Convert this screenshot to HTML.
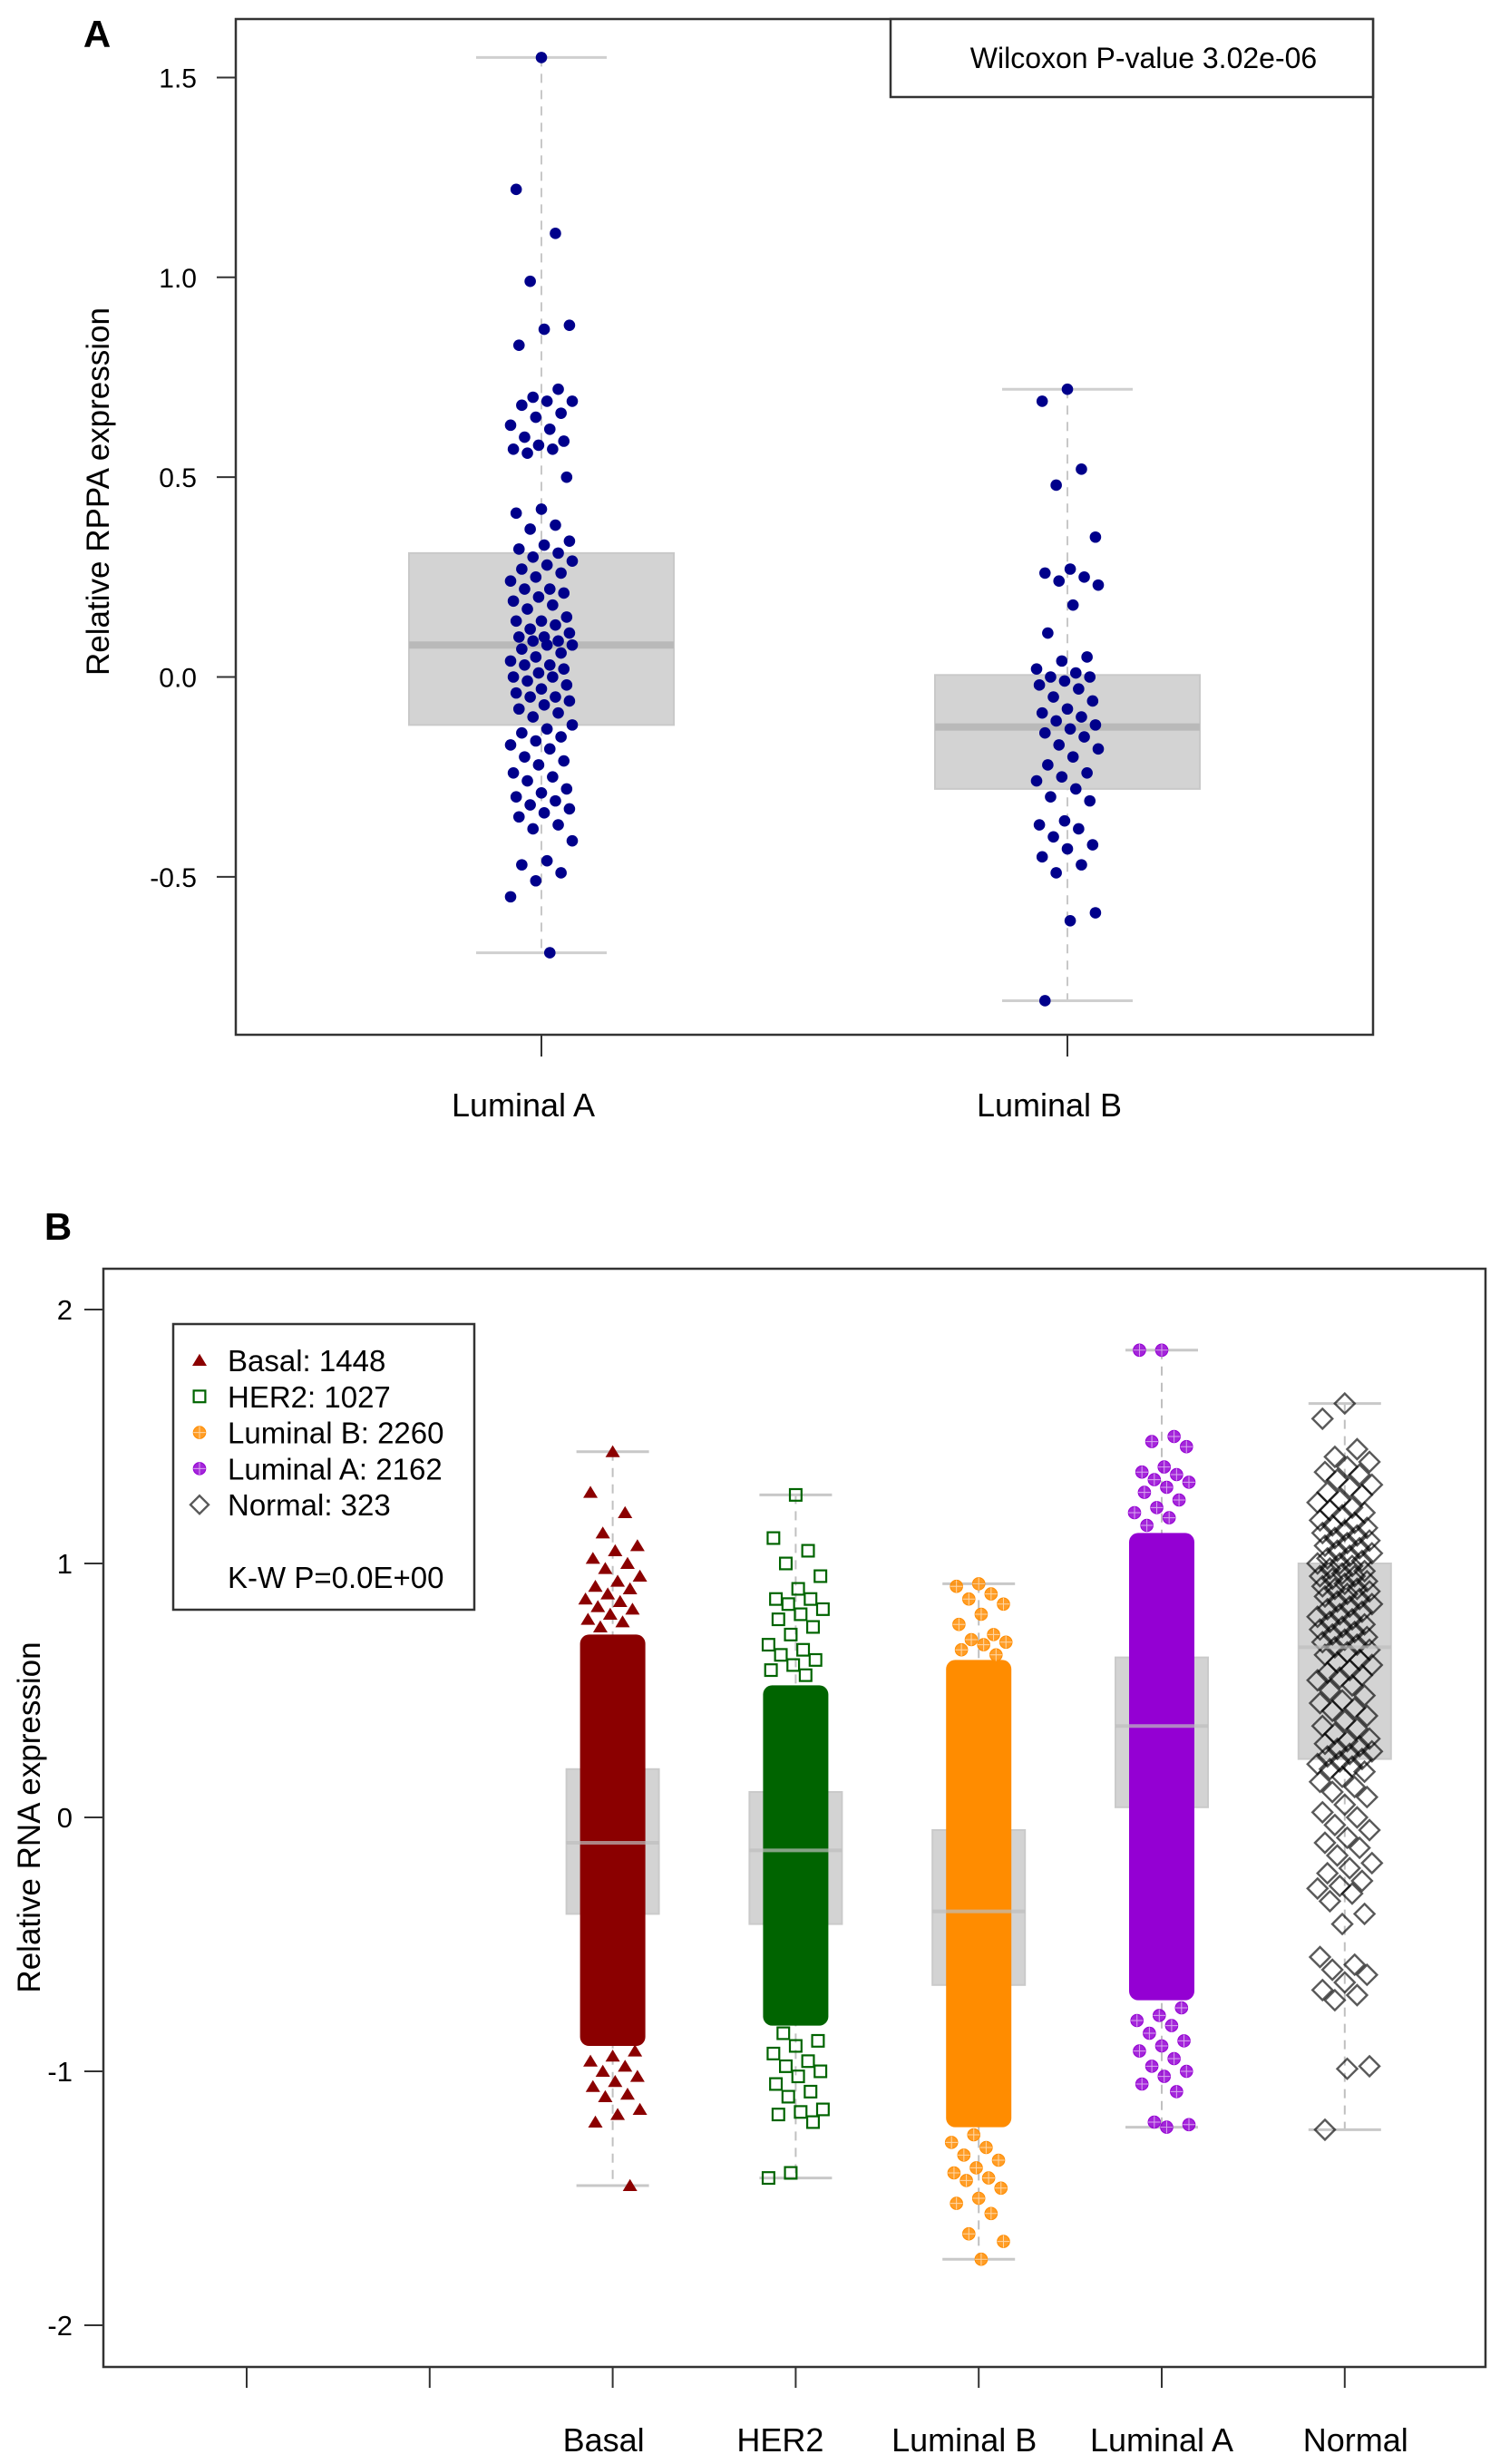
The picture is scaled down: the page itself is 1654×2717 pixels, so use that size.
<!DOCTYPE html>
<html><head><meta charset="utf-8"><title>RPPA and RNA expression boxplots</title>
<style>
html,body{margin:0;padding:0;background:#fff;}
svg{display:block;font-family:"Liberation Sans",Arial,sans-serif;}
</style></head>
<body>
<svg id="fig" width="1654" height="2717" viewBox="0 0 1654 2717" xmlns="http://www.w3.org/2000/svg">
<rect x="0" y="0" width="1654" height="2717" fill="#fff"/>
<g id="panelA"></g>
<g id="panelB"></g>
</svg>
<script>
// ---------- Panel A data ----------
const aCategories = ["Luminal A", "Luminal B"];
const aTicks = [-0.5, 0.0, 0.5, 1.0, 1.5];
const aTickLabels = ["-0.5", "0.0", "0.5", "1.0", "1.5"];
const aQ1 = [-0.12, -0.28];
const aMedian = [0.08, -0.125];
const aQ3 = [0.31, 0.005];
const aWhiskLo = [-0.69, -0.81];
const aWhiskHi = [1.55, 0.72];
const aPointsLumA = [1.55,1.22,1.11,0.99,0.88,0.87,0.83,0.72,0.70,0.69,0.69,0.68,0.66,0.65,0.63,0.62,0.60,0.59,0.58,0.57,0.57,0.56,0.50,0.42,0.41,0.38,0.37,0.34,0.33,0.32,0.31,0.30,0.29,0.28,0.27,0.26,0.25,0.24,0.22,0.22,0.21,0.20,0.19,0.18,0.17,0.15,0.14,0.14,0.13,0.12,0.11,0.10,0.10,0.09,0.09,0.08,0.08,0.07,0.06,0.05,0.04,0.03,0.03,0.02,0.01,0.00,0.00,-0.01,-0.02,-0.03,-0.04,-0.05,-0.05,-0.06,-0.07,-0.08,-0.09,-0.10,-0.12,-0.13,-0.14,-0.15,-0.16,-0.17,-0.18,-0.20,-0.21,-0.22,-0.24,-0.25,-0.26,-0.28,-0.29,-0.30,-0.31,-0.32,-0.33,-0.34,-0.35,-0.37,-0.38,-0.41,-0.46,-0.47,-0.49,-0.51,-0.55,-0.69];
const aPointsLumB = [0.72,0.69,0.52,0.48,0.35,0.27,0.26,0.25,0.24,0.23,0.18,0.11,0.05,0.04,0.02,0.01,0.00,0.00,-0.01,-0.02,-0.03,-0.05,-0.06,-0.08,-0.09,-0.10,-0.11,-0.12,-0.13,-0.14,-0.15,-0.17,-0.18,-0.20,-0.22,-0.24,-0.25,-0.26,-0.28,-0.30,-0.31,-0.36,-0.37,-0.38,-0.40,-0.42,-0.43,-0.45,-0.47,-0.49,-0.59,-0.61,-0.81];

// ---------- Panel B data ----------
const bCategories = ["", "", "Basal", "HER2", "Luminal B", "Luminal A", "Normal"];
const bLabelNudge = [0, 0, -10, -17, -16, 0, 12];
const bTicks = [-2, -1, 0, 1, 2];
const bTickLabels = ["-2", "-1", "0", "1", "2"];
const bGroups = ["Basal", "HER2", "Luminal B", "Luminal A", "Normal"];
const bCounts = [1448, 1027, 2260, 2162, 323];
const bQ1 = [-0.38, -0.42, -0.66, 0.04, 0.23];
const bMedian = [-0.10, -0.13, -0.37, 0.36, 0.67];
const bQ3 = [0.19, 0.10, -0.05, 0.63, 1.00];
const bWhiskLo = [-1.45, -1.42, -1.74, -1.22, -1.23];
const bWhiskHi = [1.44, 1.27, 0.92, 1.84, 1.63];
// dense (solid-looking) core range per group
const bCoreLo = [-0.90, -0.82, -1.22, -0.72, null];
const bCoreHi = [0.72, 0.52, 0.62, 1.12, null];
// sparse tail points
const bTailBasal = [1.44,1.28,1.20,1.12,1.07,1.05,1.02,1.00,0.98,0.95,0.93,0.91,0.90,0.88,0.86,0.85,0.83,0.82,0.80,0.78,0.77,0.75,-0.92,-0.94,-0.96,-0.98,-1.00,-1.02,-1.04,-1.06,-1.09,-1.10,-1.15,-1.17,-1.20,-1.45];
const bTailHER2 = [1.27,1.10,1.05,1.00,0.95,0.90,0.86,0.86,0.84,0.82,0.80,0.78,0.75,0.72,0.68,0.66,0.64,0.62,0.60,0.58,0.56,-0.85,-0.88,-0.90,-0.93,-0.96,-0.98,-1.00,-1.02,-1.05,-1.08,-1.10,-1.15,-1.16,-1.17,-1.20,-1.40,-1.42];
const bTailLumB = [0.92,0.91,0.88,0.86,0.84,0.80,0.76,0.72,0.70,0.69,0.68,0.66,0.64,-1.25,-1.28,-1.30,-1.33,-1.35,-1.38,-1.40,-1.42,-1.43,-1.46,-1.50,-1.52,-1.56,-1.64,-1.67,-1.74];
const bTailLumA = [1.84,1.84,1.50,1.48,1.46,1.38,1.36,1.35,1.33,1.32,1.30,1.28,1.25,1.22,1.20,1.18,1.15,-0.75,-0.78,-0.80,-0.82,-0.85,-0.88,-0.90,-0.92,-0.95,-0.98,-1.00,-1.02,-1.05,-1.08,-1.20,-1.21,-1.22];
const bPointsNormal = [1.63,1.57,1.45,1.42,1.40,1.38,1.36,1.35,1.33,1.31,1.30,1.28,1.27,1.25,1.24,1.22,1.21,1.20,1.19,1.17,1.16,1.15,1.14,1.13,1.12,1.11,1.10,1.09,1.08,1.07,1.06,1.05,1.04,1.03,1.02,1.01,1.00,1.00,0.99,0.98,0.97,0.96,0.95,0.95,0.94,0.93,0.92,0.91,0.90,0.90,0.89,0.88,0.87,0.86,0.85,0.84,0.83,0.82,0.81,0.80,0.79,0.78,0.77,0.76,0.75,0.74,0.73,0.72,0.71,0.70,0.69,0.68,0.67,0.66,0.65,0.64,0.62,0.61,0.60,0.58,0.57,0.56,0.55,0.54,0.52,0.50,0.48,0.46,0.45,0.43,0.42,0.40,0.38,0.36,0.35,0.33,0.31,0.30,0.29,0.28,0.27,0.26,0.25,0.24,0.23,0.22,0.21,0.20,0.19,0.18,0.16,0.14,0.12,0.10,0.08,0.05,0.02,0.00,-0.03,-0.05,-0.08,-0.10,-0.12,-0.15,-0.18,-0.20,-0.22,-0.25,-0.27,-0.28,-0.30,-0.33,-0.38,-0.42,-0.55,-0.58,-0.60,-0.62,-0.65,-0.68,-0.70,-0.72,-0.98,-0.99,-1.23];

const NS = "http://www.w3.org/2000/svg";
function mk(parent, tag, attrs, text) {
  const el = document.createElementNS(NS, tag);
  for (const k in attrs) el.setAttribute(k, attrs[k]);
  if (text !== undefined) el.textContent = text;
  parent.appendChild(el);
  return el;
}
function jit(i, half) { return (((i * 37 + 11) % 23) / 22 * 2 - 1) * half; }

// ================= PANEL A =================
const gA = document.getElementById("panelA");
const A = {left: 260, right: 1514, top: 21, bottom: 1141};
const yA = v => 746.5 - v * 440.7;
const xA = i => [597, 1177][i];

let t = mk(gA, "text", {x: 107, y: 52, "font-size": 42, "font-weight": "bold", "text-anchor": "middle"}, "A");



aCategories.forEach((c, i) => {
  const cx = xA(i);
  const g = mk(gA, "g", {});
  
  
  mk(g, "line", {x1: cx, x2: cx, y1: yA(aWhiskHi[i]), y2: yA(aWhiskLo[i]), stroke: "#c8c8c8", "stroke-width": 2, "stroke-dasharray": "10,8"});
  mk(g, "line", {x1: cx - 72, x2: cx + 72, y1: yA(aWhiskHi[i]), y2: yA(aWhiskHi[i]), stroke: "#cfcfcf", "stroke-width": 3});
  mk(g, "line", {x1: cx - 72, x2: cx + 72, y1: yA(aWhiskLo[i]), y2: yA(aWhiskLo[i]), stroke: "#cfcfcf", "stroke-width": 3});
  mk(g, "rect", {x: cx - 146, y: yA(aQ3[i]), width: 292, height: yA(aQ1[i]) - yA(aQ3[i]), fill: "#d3d3d3", stroke: "#c9c9c9", "stroke-width": 2});
  mk(g, "line", {x1: cx - 146, x2: cx + 146, y1: yA(aMedian[i]), y2: yA(aMedian[i]), stroke: "#b9b9b9", "stroke-width": 8});
});
[aPointsLumA, aPointsLumB].forEach((arr, gi) => {
  arr.forEach((v, i) => {
    const p = mk(gA, "circle", {cx: xA(gi) + jit(i, 34), cy: yA(v), r: 6.3, fill: "#00008B"});
    
    
  });
});
let fr = mk(gA, "rect", {x: A.left, y: A.top, width: A.right - A.left, height: A.bottom - A.top, fill: "none", stroke: "#333", "stroke-width": 2.5});


let lg = mk(gA, "g", {});


mk(lg, "rect", {x: 982, y: A.top, width: A.right - 982, height: 86, fill: "#fff", stroke: "#333", "stroke-width": 2.5});
mk(lg, "text", {x: 1261, y: 75, "font-size": 32, "text-anchor": "middle"}, "Wilcoxon P-value 3.02e-06");
aTicks.forEach((v, i) => {
  const tk = mk(gA, "line", {x1: 239, x2: A.left, y1: yA(v), y2: yA(v), stroke: "#333", "stroke-width": 2});
  
  
  const tl = mk(gA, "text", {x: 217, y: yA(v) + 11, "font-size": 30, "text-anchor": "end"}, aTickLabels[i]);
  
  
});
aCategories.forEach((c, i) => {
  const tk = mk(gA, "line", {x1: xA(i), x2: xA(i), y1: A.bottom, y2: A.bottom + 24, stroke: "#333", "stroke-width": 2});
  
  
  const tl = mk(gA, "text", {x: xA(i) - 20, y: 1231, "font-size": 36, "text-anchor": "middle"}, c);
  
  
});
let yt = mk(gA, "text", {x: 0, y: 0, "font-size": 35, "text-anchor": "middle", transform: "translate(120,542) rotate(-90)"}, "Relative RPPA expression");



// ================= PANEL B =================
const gB = document.getElementById("panelB");
const B = {left: 114, right: 1638, top: 1399, bottom: 2610};
const yB = v => 2004 - v * 280;
const xB = i => 272 + i * 201.8;
const colors = ["#8B0000", "#006400", "#FF8C00", "#9400D3", "#000000"];
const halfW = 36;

let tB = mk(gB, "text", {x: 64, y: 1367, "font-size": 42, "font-weight": "bold", "text-anchor": "middle"}, "B");



function marker(parent, gi, x, y, s) {
  let el;
  if (gi === 0) {
    el = mk(parent, "polygon", {points: `${x},${y - s * 0.9} ${x - s},${y + s * 0.75} ${x + s},${y + s * 0.75}`, fill: colors[0]});
  } else if (gi === 1) {
    el = mk(parent, "rect", {x: x - s * 0.8, y: y - s * 0.8, width: s * 1.6, height: s * 1.6, fill: "none", stroke: colors[1], "stroke-width": 2.2});
  } else if (gi === 2 || gi === 3) {
    el = mk(parent, "g", {});
    mk(el, "circle", {cx: x, cy: y, r: s * 0.85, fill: colors[gi], "fill-opacity": 0.85, stroke: colors[gi], "stroke-width": 1});
    mk(el, "path", {d: `M${x - s * 0.85},${y}H${x + s * 0.85}M${x},${y - s * 0.85}V${y + s * 0.85}`, stroke: "#fff", "stroke-width": 1, "stroke-opacity": 0.6});
  } else {
    el = mk(parent, "polygon", {points: `${x},${y - s} ${x + s},${y} ${x},${y + s} ${x - s},${y}`, fill: "none", stroke: "#000", "stroke-opacity": 0.65, "stroke-width": 2.4});
  }
  return el;
}

const tails = [bTailBasal, bTailHER2, bTailLumB, bTailLumA, bPointsNormal];
bGroups.forEach((name, gi) => {
  const cx = xB(gi + 2);
  const g = mk(gB, "g", {});
  
  
  mk(g, "line", {x1: cx, x2: cx, y1: yB(bWhiskHi[gi]), y2: yB(bWhiskLo[gi]), stroke: "#c0c0c0", "stroke-width": 2, "stroke-dasharray": "10,8"});
  mk(g, "line", {x1: cx - 40, x2: cx + 40, y1: yB(bWhiskHi[gi]), y2: yB(bWhiskHi[gi]), stroke: "#c8c8c8", "stroke-width": 3});
  mk(g, "line", {x1: cx - 40, x2: cx + 40, y1: yB(bWhiskLo[gi]), y2: yB(bWhiskLo[gi]), stroke: "#c8c8c8", "stroke-width": 3});
  mk(g, "rect", {x: cx - 51, y: yB(bQ3[gi]), width: 102, height: yB(bQ1[gi]) - yB(bQ3[gi]), fill: "#d3d3d3", stroke: "#cacaca", "stroke-width": 2});
  if (bCoreLo[gi] !== null) {
    const core = mk(g, "rect", {x: cx - halfW, y: yB(bCoreHi[gi]), width: halfW * 2, height: yB(bCoreLo[gi]) - yB(bCoreHi[gi]), rx: 10, fill: colors[gi]});
    
    
  }
  tails[gi].forEach((v, i) => {
    const m = marker(g, gi, cx + jit(i, halfW - 6), yB(v), gi === 4 ? 11 : 8);
    
    
  });
  mk(g, "line", {x1: cx - 51, x2: cx + 51, y1: yB(bMedian[gi]), y2: yB(bMedian[gi]), stroke: "#bdbdbd", "stroke-width": 4, "stroke-opacity": 0.7});
});

let frB = mk(gB, "rect", {x: B.left, y: B.top, width: B.right - B.left, height: B.bottom - B.top, fill: "none", stroke: "#333", "stroke-width": 2.5});


bTicks.forEach((v, i) => {
  const tk = mk(gB, "line", {x1: 93, x2: B.left, y1: yB(v), y2: yB(v), stroke: "#333", "stroke-width": 2});
  
  
  const tl = mk(gB, "text", {x: 80, y: yB(v) + 11, "font-size": 31, "text-anchor": "end"}, bTickLabels[i]);
  
  
});
bCategories.forEach((c, i) => {
  const tk = mk(gB, "line", {x1: xB(i), x2: xB(i), y1: B.bottom, y2: B.bottom + 23, stroke: "#333", "stroke-width": 2});
  
  
  if (c) {
    const tl = mk(gB, "text", {x: xB(i) + bLabelNudge[i], y: 2703, "font-size": 36, "text-anchor": "middle"}, c);
    
    
  }
});
let ytB = mk(gB, "text", {x: 0, y: 0, "font-size": 35, "text-anchor": "middle", transform: "translate(44,2004) rotate(-90)"}, "Relative RNA expression");



// legend
const leg = mk(gB, "g", {});


mk(leg, "rect", {x: 191, y: 1460, width: 332, height: 315, fill: "#fff", stroke: "#333", "stroke-width": 2.5});
bGroups.forEach((name, gi) => {
  const cy = 1500 + gi * 39.8;
  const e = mk(leg, "g", {});
  
  
  marker(e, gi, 220, cy, gi === 4 ? 10 : 8);
  mk(e, "text", {x: 251, y: cy + 12, "font-size": 33}, name + ": " + bCounts[gi]);
});
mk(leg, "text", {x: 251, y: 1751, "font-size": 33}, "K-W  P=0.0E+00");
</script>
</body></html>
